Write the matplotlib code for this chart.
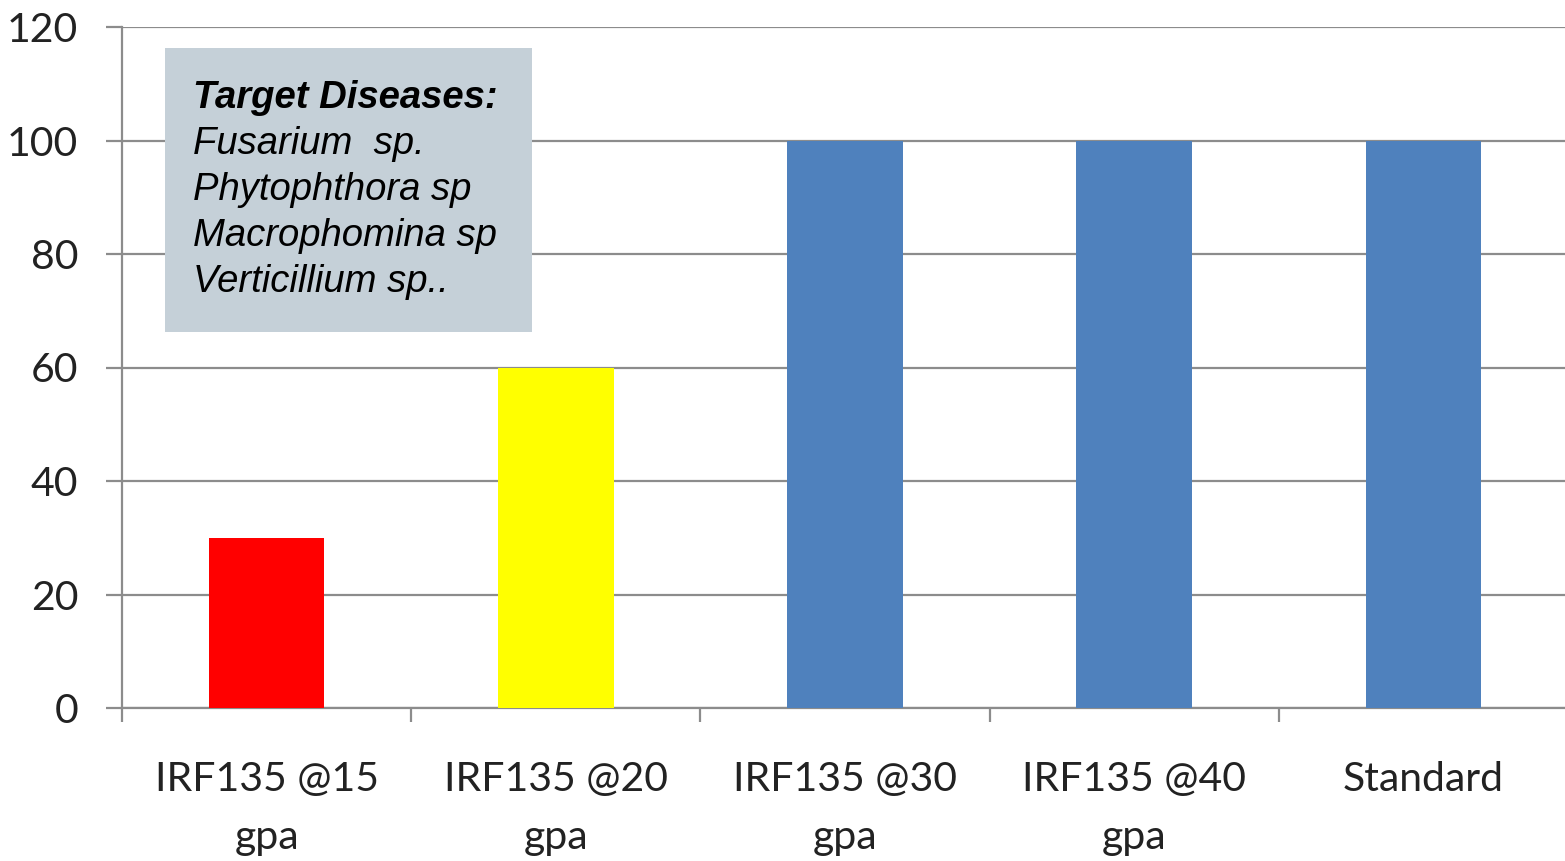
import matplotlib
matplotlib.use('Agg')
import matplotlib.pyplot as plt
from matplotlib.patches import Rectangle

categories = ['IRF135 @15\ngpa', 'IRF135 @20\ngpa', 'IRF135 @30\ngpa', 'IRF135 @40\ngpa', 'Standard']
values = [30, 60, 100, 100, 100]
bar_colors = ['#ff0000', '#ffff00', '#4f81bd', '#4f81bd', '#4f81bd']
box_title = 'Target Diseases:'
box_lines = ['Fusarium  sp.', 'Phytophthora sp', 'Macrophomina sp', 'Verticillium sp..']

fig = plt.figure(figsize=(15.65, 8.61), dpi=100)
ax = fig.add_axes([122/1565, 1-708/861, 1446/1565, 681/861])

x = range(len(values))
ax.bar(x, values, width=0.4, color=bar_colors, zorder=3)

ax.set_xlim(-0.5, len(values) - 0.5)
ax.set_ylim(0, 120)
ax.set_yticks(range(0, 121, 20))
ax.yaxis.grid(True, color='#8c8c8c', linewidth=1.6, zorder=0)
ax.set_axisbelow(True)

for s in ['top', 'right']:
    ax.spines[s].set_visible(False)
for s in ['left', 'bottom']:
    ax.spines[s].set_color('#8c8c8c')
    ax.spines[s].set_linewidth(1.6)

ax.set_xticks(list(x))
ax.set_xticklabels(categories, fontsize=29.5, family='Lato', linespacing=1.7, color='#222222')
ax.set_xticks([i - 0.5 for i in x], minor=True)
ax.tick_params(axis='x', which='major', length=0, pad=38)
ax.tick_params(axis='x', which='minor', length=10, width=1.6, color='#8c8c8c')
ax.tick_params(axis='y', length=11.5, width=1.6, color='#8c8c8c', pad=20,
               labelsize=29.5, labelcolor='#222222')
for lab in ax.get_yticklabels():
    lab.set_family('Lato')

# gray annotation box
ax.add_patch(Rectangle((0.0297, 0.552), 0.2538, 0.417, transform=ax.transAxes,
                       facecolor='#c5d0d8', edgecolor='none', zorder=5))
ax.text(0.049, 0.896, box_title, transform=ax.transAxes, fontsize=27.5,
        family='Liberation Sans', style='italic', weight='bold', va='center', zorder=6)
for i, line in enumerate(box_lines):
    ax.text(0.049, 0.8285 - i*0.0675, line, transform=ax.transAxes, fontsize=27.5,
            family='Liberation Sans', style='italic', va='center', zorder=6)

fig.savefig('out.png', dpi=100)
